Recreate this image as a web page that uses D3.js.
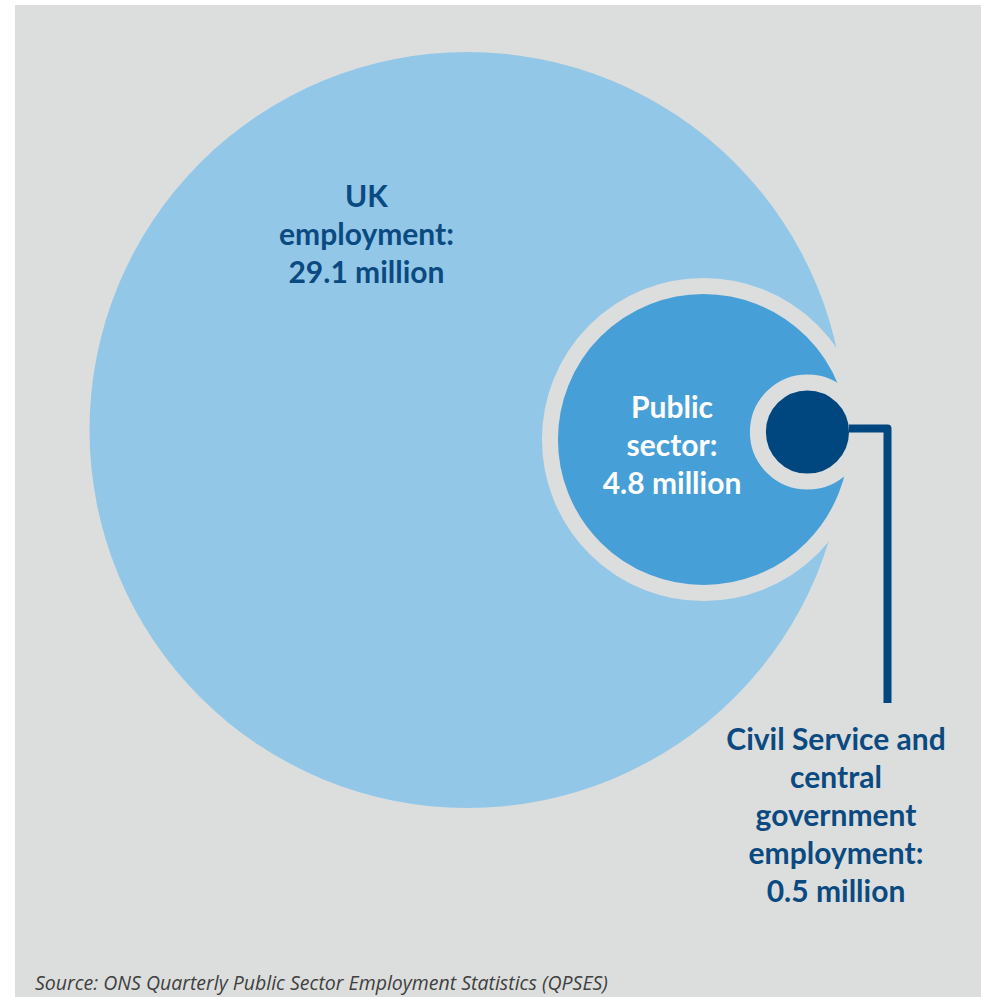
<!DOCTYPE html>
<html>
<head>
<meta charset="utf-8">
<script src="https://cdn.jsdelivr.net/npm/d3@7"></script>
<style>
  html, body { margin: 0; padding: 0; background: #ffffff; }
  svg { display: block; }
</style>
</head>
<body>
<div id="chart"></div>
<script>
// Employment totals, millions
const categories = ["UK employment", "Public sector", "Civil Service and central government employment"];
const values = [29.1, 4.8, 0.5];
const labelLines = [
  ["UK", "employment:", "29.1 million"],
  ["Public", "sector:", "4.8 million"],
  ["Civil Service and", "central", "government", "employment:", "0.5 million"]
];
const sourceNote = "Source: ONS Quarterly Public Sector Employment Statistics (QPSES)";

const W = 981, H = 997;
const panelBg = "#dcdedd";
const fills = ["#93c7e8", "#479fd7", "#00467f"];
const textColours = ["#0b4a80", "#ffffff", "#0b4a80"];
const ringWidth = 16;

const svg = d3.select("#chart").append("svg")
  .attr("width", W).attr("height", H);

svg.append("rect")
  .attr("x", 15).attr("y", 5)
  .attr("width", W - 15).attr("height", H - 5)
  .attr("fill", panelBg);

// Area-true radii
const r = d3.scaleSqrt().domain([0, d3.max(values)]).range([0, 378]);

// Outer circle centred; the nested circles share a right-hand anchor
const outerCentre = [467.5, 430];
const anchorX = 857;
const centreY = [430, 439.5, 432];

const circles = categories.map((c, i) => ({
  name: c,
  value: values[i],
  r: r(values[i]),
  cx: i === 0 ? outerCentre[0] : anchorX - r(values[i]),
  cy: centreY[i],
  fill: fills[i],
  ring: i > 0
}));

svg.selectAll("circle.bubble")
  .data(circles)
  .join("circle")
  .attr("class", "bubble")
  .attr("cx", d => d.cx)
  .attr("cy", d => d.cy)
  .attr("r", d => d.r)
  .attr("fill", d => d.fill)
  .attr("stroke", d => d.ring ? panelBg : "none")
  .attr("stroke-width", d => d.ring ? ringWidth : 0);

// Leader from the smallest circle down to its label
const small = circles[2];
const leaderX = 887.5, leaderY = small.cy - 3.5, leaderEnd = 703;
svg.append("path")
  .attr("d", `M${small.cx + small.r - ringWidth / 2},${leaderY}H${leaderX}V${leaderEnd}`)
  .attr("fill", "none")
  .attr("stroke", "#00467f")
  .attr("stroke-width", 8)
  .attr("stroke-linejoin", "round");

// Labels
const labelPos = [
  { x: 366.5, y: 207 },
  { x: 672, y: 418 },
  { x: 836, y: 750 }
];
const lineGap = 38;

labelLines.forEach((lines, i) => {
  const t = svg.append("text")
    .attr("text-anchor", "middle")
    .attr("font-family", "Lato, 'Open Sans', sans-serif")
    .attr("font-weight", 700)
    .attr("font-size", 30)
    .attr("fill", textColours[i]);
  t.selectAll("tspan")
    .data(lines)
    .join("tspan")
    .attr("x", labelPos[i].x)
    .attr("y", (d, j) => labelPos[i].y + j * lineGap)
    .text(d => d);
});

svg.append("text")
  .attr("x", 35)
  .attr("y", 989.5)
  .attr("font-family", "'Open Sans', sans-serif")
  .attr("font-style", "italic")
  .attr("font-size", 19.5)
  .attr("fill", "#404040")
  .text(sourceNote);
</script>
</body>
</html>
